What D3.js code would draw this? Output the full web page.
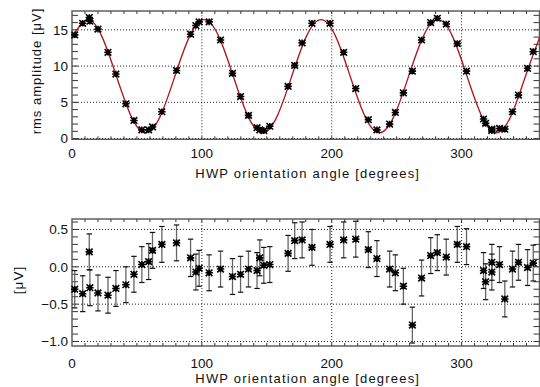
<!DOCTYPE html>
<html>
<head>
<meta charset="utf-8">
<script src="https://cdn.jsdelivr.net/npm/d3@7"></script>
<style>
  body { margin: 0; background: #fff; }
  svg text { font-family: "Liberation Sans", Arial, sans-serif; fill: #111; }
</style>
</head>
<body>
<svg id="chart" width="540" height="387"></svg>
<script>
// HWP angles (deg) of each measurement
const angles = [2.1, 8.2, 13.3, 13.8, 20.0, 27.7, 33.8, 41.5, 47.7, 53.8, 59.0, 62.0, 69.2, 80.5,
  91.3, 95.4, 97.9, 105.6, 114.4, 123.6, 129.8, 135.9, 142.5, 144.6, 147.7, 152.3,
  166.4, 171.5, 177.2, 184.8, 198.7, 209.2, 218.5, 228.2, 234.8, 244.6, 249.0, 255.2,
  262.1, 269.2, 276.2, 281.3, 288.2, 296.7, 303.8, 316.9, 318.5, 323.3, 323.3, 329.2,
  333.3, 339.2, 343.8, 350.8, 355.2];
// rms amplitude [uV]
const amplitudes = [14.3, 15.9, 16.7, 16.2, 15.1, 11.9, 8.9, 4.8, 2.5, 1.2, 1.2, 1.6, 3.7, 9.4,
  14.4, 15.6, 16.1, 16.1, 13.6, 9.0, 5.8, 3.2, 1.5, 1.2, 1.1, 1.7,
  7.2, 10.1, 13.2, 15.9, 15.9, 11.9, 6.9, 2.6, 1.2, 2.0, 3.6, 6.3,
  9.3, 13.6, 16.0, 16.6, 15.8, 13.1, 9.3, 2.7, 2.1, 1.3, 1.1, 1.4,
  1.3, 3.7, 6.0, 9.7, 12.0];
// residuals [uV]
const residuals = [-0.30, -0.36, 0.20, -0.28, -0.35, -0.38, -0.29, -0.24, -0.10, 0.03, 0.07, 0.22, 0.30, 0.32,
  0.12, -0.07, -0.02, -0.08, -0.03, -0.13, -0.10, -0.03, -0.05, 0.12, 0.02, 0.03,
  0.18, 0.35, 0.36, 0.26, 0.30, 0.36, 0.37, 0.23, 0.11, -0.03, -0.08, -0.26,
  -0.78, -0.15, 0.15, 0.19, 0.13, 0.30, 0.27, -0.05, -0.20, 0.06, -0.07, 0.03,
  -0.43, -0.03, 0.06, -0.01, 0.05];
const errors = [0.25, 0.24, 0.24, 0.24, 0.24, 0.24, 0.24, 0.24, 0.24, 0.24, 0.24, 0.24, 0.24, 0.24,
  0.25, 0.24, 0.24, 0.24, 0.24, 0.24, 0.24, 0.24, 0.24, 0.24, 0.24, 0.24,
  0.24, 0.24, 0.24, 0.24, 0.24, 0.24, 0.24, 0.24, 0.24, 0.24, 0.24, 0.24,
  0.24, 0.24, 0.24, 0.24, 0.24, 0.24, 0.24, 0.24, 0.24, 0.24, 0.24, 0.24,
  0.24, 0.24, 0.24, 0.24, 0.24];
// fitted curve at peaks, troughs and between
const fitAngles = [0, 11.7, 23.0, 34.2, 45.5, 56.7, 68.0, 79.2, 90.5, 101.7, 113.0, 124.2, 135.5, 146.7,
  158.0, 169.2, 180.5, 191.7, 203.0, 214.2, 225.5, 236.7, 248.0, 259.2, 270.5, 281.7,
  293.0, 304.2, 315.5, 326.7, 338.0, 349.2, 360];
const fitValues = [13.9, 16.4, 14.1, 8.6, 3.1, 0.8, 3.1, 8.6, 14.1, 16.4, 14.1, 8.6, 3.1, 0.8,
  3.1, 8.6, 14.1, 16.4, 14.1, 8.6, 3.1, 0.8, 3.1, 8.6, 14.1, 16.4,
  14.1, 8.6, 3.1, 0.8, 3.1, 8.6, 13.9];

const xTicks = [0, 100, 200, 300];
const topYTicks = [0, 5, 10, 15];
const bottomYTicks = [-1.0, -0.5, 0.0, 0.5];
const xTitle = "HWP orientation angle [degrees]";

const svg = d3.select("#chart");
const left = 72, right = 539.5;

const x = d3.scaleLinear().domain([0, 360]).range([left, right]);
const yTop = d3.scaleLinear().domain([-0.1, 17.6]).range([139.3, 11]);
const yBot = d3.scaleLinear().domain([-1.06, 0.64]).range([346, 219]);

function panel(y, yticks, yMinorStep, fmt, labelBase, titleBase) {
  const g = svg.append("g");
  const [y0, y1] = y.range();
  // dotted grid at the major ticks
  g.selectAll("line.gx").data(xTicks.filter(d => d > 0)).enter().append("line")
    .attr("x1", d => x(d)).attr("x2", d => x(d)).attr("y1", y0).attr("y2", y1)
    .attr("stroke", "#222").attr("stroke-width", 1).attr("stroke-dasharray", "1,2");
  g.selectAll("line.gy").data(yticks).enter().append("line")
    .attr("x1", left).attr("x2", right).attr("y1", d => y(d)).attr("y2", d => y(d))
    .attr("stroke", "#222").attr("stroke-width", 1).attr("stroke-dasharray", "1,2");

  // minor ticks, inward on all sides
  const xm = d3.range(10, 360, 10);
  g.selectAll("line.mxb").data(xm).enter().append("line")
    .attr("x1", d => x(d)).attr("x2", d => x(d)).attr("y1", y0).attr("y2", y0 - 3)
    .attr("stroke", "#333");
  g.selectAll("line.mxt").data(xm).enter().append("line")
    .attr("x1", d => x(d)).attr("x2", d => x(d)).attr("y1", y1).attr("y2", y1 + 3)
    .attr("stroke", "#333");
  const [d0, d1] = y.domain();
  const ym = d3.range(Math.ceil(d0 / yMinorStep), Math.floor(d1 / yMinorStep) + 1).map(i => i * yMinorStep);
  g.selectAll("line.myl").data(ym).enter().append("line")
    .attr("x1", left).attr("x2", left + 6).attr("y1", d => y(d)).attr("y2", d => y(d))
    .attr("stroke", "#333");
  g.selectAll("line.myr").data(ym).enter().append("line")
    .attr("x1", right).attr("x2", right - 6).attr("y1", d => y(d)).attr("y2", d => y(d))
    .attr("stroke", "#333");

  // frame
  g.append("rect").attr("x", left).attr("y", y1).attr("width", right - left).attr("height", y0 - y1)
    .attr("fill", "none").attr("stroke", "#555").attr("stroke-width", 1.4);

  // tick labels
  g.selectAll("text.xl").data(xTicks).enter().append("text")
    .attr("x", d => x(d)).attr("y", labelBase).attr("text-anchor", "middle")
    .attr("font-size", 13.5).text(d => d);
  g.selectAll("text.yl").data(yticks).enter().append("text")
    .attr("x", 68).attr("y", d => y(d)).attr("dy", "0.36em").attr("text-anchor", "end")
    .attr("font-size", 13.5).text(fmt);

  g.append("text").attr("x", (left + right) / 2 + 2).attr("y", titleBase).attr("text-anchor", "middle")
    .attr("font-size", 13).attr("letter-spacing", "1.2px").text(xTitle);
  return g;
}

function star(g, xs, ys) {
  const r = 3.3;
  const p = `M${-r},${-r}L${r},${r}M${-r},${r}L${r},${-r}M${-r - 0.4},0L${r + 0.4},0M0,${-r}L0,${r}`;
  g.selectAll("path.st").data(xs).enter().append("path")
    .attr("transform", (d, i) => `translate(${x(d)},${ys(i)})`)
    .attr("d", p).attr("stroke", "#000").attr("stroke-width", 1.6).attr("fill", "none");
}

// top panel
const topPanel = panel(yTop, topYTicks, 1, d => d, 158, 177.5);
const fitLine = d3.line().x(d => x(d[0])).y(d => yTop(d[1])).curve(d3.curveNatural);
topPanel.append("path").datum(fitAngles.map((a, i) => [a, fitValues[i]]))
  .attr("d", fitLine).attr("fill", "none").attr("stroke", "#b0141c").attr("stroke-width", 1.3);
star(topPanel, angles, i => yTop(amplitudes[i]));
topPanel.append("text").attr("transform", "translate(41,71) rotate(-90)").attr("text-anchor", "middle")
  .attr("font-size", 13).attr("letter-spacing", "1px").text("rms amplitude [μV]");

// bottom panel
const fmt1 = d3.format(".1f");
const botPanel = panel(yBot, bottomYTicks, 0.1, d => fmt1(d), 368, 383);
botPanel.selectAll("line.eb").data(angles).enter().append("line")
  .attr("x1", d => x(d)).attr("x2", d => x(d))
  .attr("y1", (d, i) => yBot(residuals[i] - errors[i])).attr("y2", (d, i) => yBot(residuals[i] + errors[i]))
  .attr("stroke", "#666").attr("stroke-width", 1.3);
[-1, 1].forEach(s => {
  botPanel.selectAll("line.cap" + (s > 0 ? "u" : "d")).data(angles).enter().append("line")
    .attr("x1", d => x(d) - 2.7).attr("x2", d => x(d) + 2.7)
    .attr("y1", (d, i) => yBot(residuals[i] + s * errors[i])).attr("y2", (d, i) => yBot(residuals[i] + s * errors[i]))
    .attr("stroke", "#111").attr("stroke-width", 1.2);
});
star(botPanel, angles, i => yBot(residuals[i]));
botPanel.append("text").attr("transform", "translate(22.5,280) rotate(-90)").attr("text-anchor", "middle")
  .attr("font-size", 13.5).attr("letter-spacing", "1px").text("[μV]");
</script>
</body>
</html>
